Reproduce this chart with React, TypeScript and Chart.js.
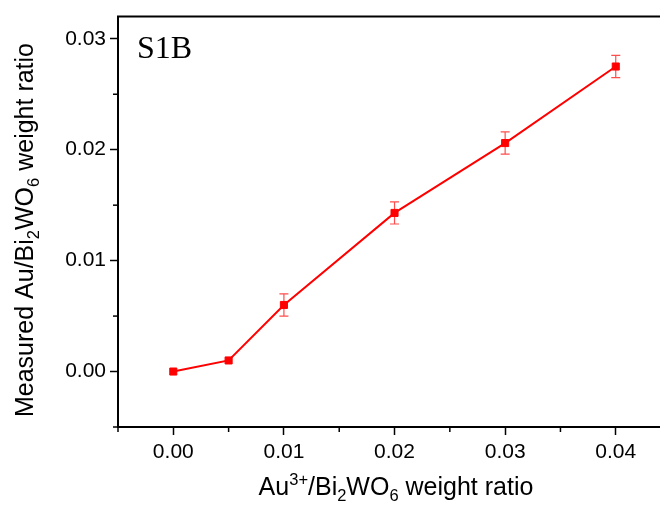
import React, { useEffect, useRef } from "react";
import { Chart, registerables } from "chart.js";

Chart.register(...registerables);

// Data
const xValues = [0, 0.005, 0.01, 0.02, 0.03, 0.04];
const measured = [0, 0.001, 0.006, 0.0143, 0.0206, 0.0275];
const errors = [0, 0, 0.001, 0.001, 0.001, 0.001];

const xMajorTicks = [0, 0.01, 0.02, 0.03, 0.04];
const xMinorTicks = [-0.005, 0.005, 0.015, 0.025, 0.035];
const yMajorTicks = [0, 0.01, 0.02, 0.03];
const yMinorTicks = [-0.005, 0.005, 0.015, 0.025];

const panelLabel = "S1B";

type Seg = { t: string; k: "n" | "sup" | "sub" };
const xTitle: Seg[] = [
  { t: "Au", k: "n" },
  { t: "3+", k: "sup" },
  { t: "/Bi", k: "n" },
  { t: "2", k: "sub" },
  { t: "WO", k: "n" },
  { t: "6", k: "sub" },
  { t: " weight ratio", k: "n" },
];
const yTitle: Seg[] = [
  { t: "Measured Au/Bi", k: "n" },
  { t: "2", k: "sub" },
  { t: "WO", k: "n" },
  { t: "6", k: "sub" },
  { t: " weight ratio", k: "n" },
];

const FONT = '"Liberation Sans", Arial, sans-serif';

function drawRich(ctx: CanvasRenderingContext2D, segs: Seg[], size: number) {
  const small = size * 0.66;
  const widths = segs.map((s) => {
    ctx.font = `${s.k === "n" ? size : small}px ${FONT}`;
    return ctx.measureText(s.t).width;
  });
  const total = widths.reduce((a, b) => a + b, 0);
  let x = -total / 2;
  ctx.textBaseline = "alphabetic";
  ctx.textAlign = "left";
  segs.forEach((s, i) => {
    ctx.font = `${s.k === "n" ? size : small}px ${FONT}`;
    let dy = 0;
    if (s.k === "sup") dy = -size * 0.4;
    if (s.k === "sub") dy = size * 0.25;
    ctx.fillText(s.t, x, dy);
    x += widths[i];
  });
}

export default function App() {
  const ref = useRef<HTMLCanvasElement | null>(null);

  useEffect(() => {
    document.body.style.margin = "0";
    const canvas = ref.current;
    if (!canvas) return;

    const decor = {
      id: "decor",
      beforeDatasetsDraw(chart: any) {
        const ctx = chart.ctx as CanvasRenderingContext2D;
        const xs = chart.scales.x;
        const ys = chart.scales.y;
        ctx.save();
        ctx.strokeStyle = "rgba(255,0,0,0.7)";
        ctx.lineWidth = 1.2;
        xValues.forEach((xv, i) => {
          const e = errors[i];
          if (!e) return;
          const px = xs.getPixelForValue(xv);
          const y1 = ys.getPixelForValue(measured[i] + e);
          const y2 = ys.getPixelForValue(measured[i] - e);
          ctx.beginPath();
          ctx.moveTo(px, y1);
          ctx.lineTo(px, y2);
          ctx.moveTo(px - 4.5, y1);
          ctx.lineTo(px + 4.5, y1);
          ctx.moveTo(px - 4.5, y2);
          ctx.lineTo(px + 4.5, y2);
          ctx.stroke();
        });
        ctx.restore();
      },
      afterDraw(chart: any) {
        const ctx = chart.ctx as CanvasRenderingContext2D;
        const { left, top, right, bottom } = chart.chartArea;
        const xs = chart.scales.x;
        const ys = chart.scales.y;
        ctx.save();
        ctx.strokeStyle = "#000";
        ctx.lineWidth = 2;
        ctx.beginPath();
        ctx.moveTo(left - 1, top);
        ctx.lineTo(right, top);
        ctx.stroke();
        ctx.lineWidth = 1.5;
        xMinorTicks.forEach((v) => {
          const px = xs.getPixelForValue(v);
          ctx.beginPath();
          ctx.moveTo(px, bottom);
          ctx.lineTo(px, bottom + 5);
          ctx.stroke();
        });
        yMinorTicks.forEach((v) => {
          const py = ys.getPixelForValue(v);
          ctx.beginPath();
          ctx.moveTo(left, py);
          ctx.lineTo(left - 5, py);
          ctx.stroke();
        });
        // panel label
        ctx.fillStyle = "#000";
        ctx.font = '32px "Liberation Serif", "Times New Roman", serif';
        ctx.textAlign = "left";
        ctx.textBaseline = "alphabetic";
        ctx.fillText(panelLabel, left + 19, top + 41);
        // axis titles
        ctx.save();
        ctx.translate(396, 495);
        drawRich(ctx, xTitle, 25);
        ctx.restore();
        ctx.save();
        ctx.translate(33, 230);
        ctx.rotate(-Math.PI / 2);
        drawRich(ctx, yTitle, 25);
        ctx.restore();
        ctx.restore();
      },
    };

    const chart = new Chart(canvas, {
      type: "line",
      data: {
        datasets: [
          {
            data: xValues.map((x, i) => ({ x, y: measured[i] })),
            borderColor: "#ff0000",
            backgroundColor: "#ff0000",
            borderWidth: 2,
            pointStyle: "rect",
            pointRadius: 5,
            pointBorderWidth: 1,
            pointBackgroundColor: "#ff0000",
            pointBorderColor: "#ff0000",
            tension: 0,
          },
        ],
      },
      options: {
        responsive: false,
        animation: false,
        layout: { autoPadding: false, padding: { top: 16, right: 0, left: 0, bottom: 0 } },
        plugins: {
          legend: { display: false },
          tooltip: { enabled: false },
          title: { display: false },
        },
        scales: {
          x: {
            type: "linear",
            min: -0.005,
            max: 0.044,
            afterBuildTicks: (s: any) => {
              s.ticks = xMajorTicks.map((v) => ({ value: v }));
            },
            afterFit: (s: any) => {
              s.height = 82;
            },
            ticks: {
              color: "#000",
              font: { family: FONT, size: 21 },
              padding: 5,
              maxRotation: 0,
              autoSkip: false,
              callback: (v: any) => Number(v).toFixed(2),
            },
            grid: {
              display: true,
              drawOnChartArea: false,
              drawTicks: true,
              tickLength: 8,
              tickColor: "#000",
              tickWidth: 1.5,
            },
            border: { display: true, color: "#000", width: 2 },
          },
          y: {
            type: "linear",
            min: -0.005,
            max: 0.032,
            afterBuildTicks: (s: any) => {
              s.ticks = yMajorTicks.map((v) => ({ value: v }));
            },
            afterFit: (s: any) => {
              s.width = 118;
            },
            ticks: {
              color: "#000",
              font: { family: FONT, size: 21 },
              padding: 4,
              autoSkip: false,
              callback: (v: any) => Number(v).toFixed(2),
            },
            grid: {
              display: true,
              drawOnChartArea: false,
              drawTicks: true,
              tickLength: 8,
              tickColor: "#000",
              tickWidth: 1.5,
            },
            border: { display: true, color: "#000", width: 2 },
          },
        },
      },
      plugins: [decor],
    });

    return () => chart.destroy();
  }, []);

  return (
    <div style={{ width: 660, height: 509, position: "relative", background: "#fff" }}>
      <canvas ref={ref} width={660} height={509} style={{ display: "block" }} />
    </div>
  );
}
